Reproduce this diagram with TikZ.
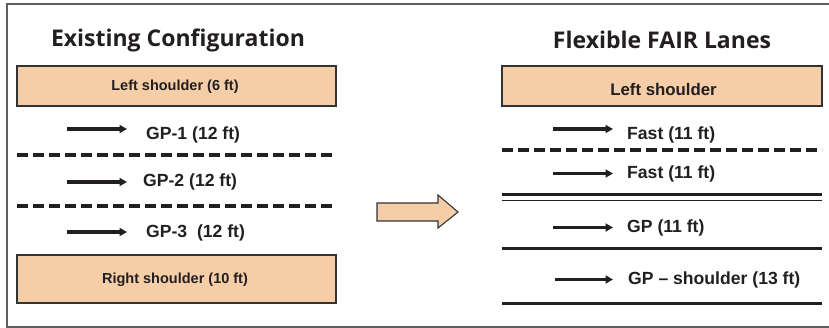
\documentclass[tikz,border=0pt]{standalone}
\usepackage{fontspec}
\setmainfont{Liberation Sans}
\newfontfamily\titlefont{Open Sans}
\usetikzlibrary{arrows.meta}
\definecolor{peach}{HTML}{F5CDA7}
\definecolor{ink}{HTML}{231F20}
\definecolor{framegray}{HTML}{5E5E5E}
\definecolor{boxedge}{HTML}{333333}
\tikzset{
  shoulderbox/.style={draw=boxedge, line width=1.3pt, fill=peach},
  titletext/.style={inner sep=0pt, text=ink, font=\titlefont\bfseries\fontsize{23}{26}\selectfont},
  boxtext/.style={inner sep=0pt, text=ink, font=\bfseries\fontsize{14.5}{17}\selectfont},
  bigboxtext/.style={inner sep=0pt, text=ink, font=\bfseries\fontsize{16.8}{19}\selectfont},
  lanetext/.style={inner sep=0pt, anchor=west, text=ink, font=\bfseries\fontsize{17.6}{20}\selectfont},
  lanearrow/.style={draw=ink, line width=3.2pt, -{Triangle[length=7.5pt,width=8pt]}},
  dashline/.style={draw=ink, line width=3.4pt, dash pattern=on 10.5pt off 5.5pt},
  thickline/.style={draw=ink, line width=3pt},
  thinline/.style={draw=ink, line width=1.7pt},
  blockarrow/.style={draw=boxedge, line width=1.1pt, fill=peach}
}
\begin{document}
\begin{tikzpicture}[x=1pt,y=-1pt]
\useasboundingbox (0,0) rectangle (829,328);
\clip (0,0) rectangle (829,328);
\draw[framegray, line width=1.7pt] (7,4) rectangle (840,327);

% titles
\node[titletext] (t1) at (178,40) {Existing Configuration};
\node[titletext] (t2) at (662,40) {Flexible FAIR Lanes};

% left panel
\draw[shoulderbox] (17,66) rectangle (336,106);
\node[boxtext] (ls) at (175,86.5) {Left shoulder (6 ft)};
\coordinate (a1s) at (67,129); \coordinate (a1e) at (127,129);
\draw[lanearrow] (a1s) -- (a1e);
\node[lanetext] (gp1) at (146,135) {GP-1 (12 ft)};
\coordinate (d1s) at (17,155); \coordinate (d1e) at (336,155);
\draw[dashline] (d1s) -- (d1e);
\coordinate (a2s) at (67,182); \coordinate (a2e) at (127,182);
\draw[lanearrow] (a2s) -- (a2e);
\node[lanetext] (gp2) at (143,181.5) {GP-2 (12 ft)};
\coordinate (d2s) at (17,206); \coordinate (d2e) at (336,206);
\draw[dashline] (d2s) -- (d2e);
\coordinate (a3s) at (67,232); \coordinate (a3e) at (127,232);
\draw[lanearrow] (a3s) -- (a3e);
\node[lanetext] (gp3) at (146,233) {GP-3\ \ (12 ft)};
\draw[shoulderbox] (17,255) rectangle (336,303);
\node[boxtext] (rs) at (175,280) {Right shoulder (10 ft)};

% block arrow
\draw[blockarrow] (377,203) -- (438,203) -- (438,195) -- (458,212) -- (438,228) -- (438,221) -- (377,221) -- cycle;

% right panel
\draw[shoulderbox] (502,66) rectangle (822,106);
\node[bigboxtext] (rls) at (663.5,89) {Left shoulder};
\coordinate (b1s) at (553,129); \coordinate (b1e) at (613,129);
\draw[lanearrow] (b1s) -- (b1e);
\node[lanetext] (f1) at (627,135) {Fast (11 ft)};
\coordinate (e1s) at (502,150); \coordinate (e1e) at (822,150);
\draw[dashline] (e1s) -- (e1e);
\coordinate (b2s) at (553,173.5); \coordinate (b2e) at (613,173.5);
\draw[lanearrow] (b2s) -- (b2e);
\node[lanetext] (f2) at (627,174) {Fast (11 ft)};
\coordinate (e2s) at (502,195); \coordinate (e2e) at (822,195);
\draw[thickline] (e2s) -- (e2e);
\coordinate (e3s) at (502,200.5); \coordinate (e3e) at (822,200.5);
\draw[thinline] (e3s) -- (e3e);
\coordinate (b3s) at (553,227.5); \coordinate (b3e) at (613,227.5);
\draw[lanearrow] (b3s) -- (b3e);
\node[lanetext] (gp) at (627,228) {GP (11 ft)};
\coordinate (e4s) at (502,249); \coordinate (e4e) at (822,249);
\draw[thickline] (e4s) -- (e4e);
\coordinate (b4s) at (555,279.5); \coordinate (b4e) at (613,279.5);
\draw[lanearrow] (b4s) -- (b4e);
\node[lanetext] (gps) at (628,280) {GP -- shoulder (13 ft)};
\coordinate (e5s) at (502,304); \coordinate (e5e) at (822,304);
\draw[thickline] (e5s) -- (e5e);
\end{tikzpicture}
\end{document}
